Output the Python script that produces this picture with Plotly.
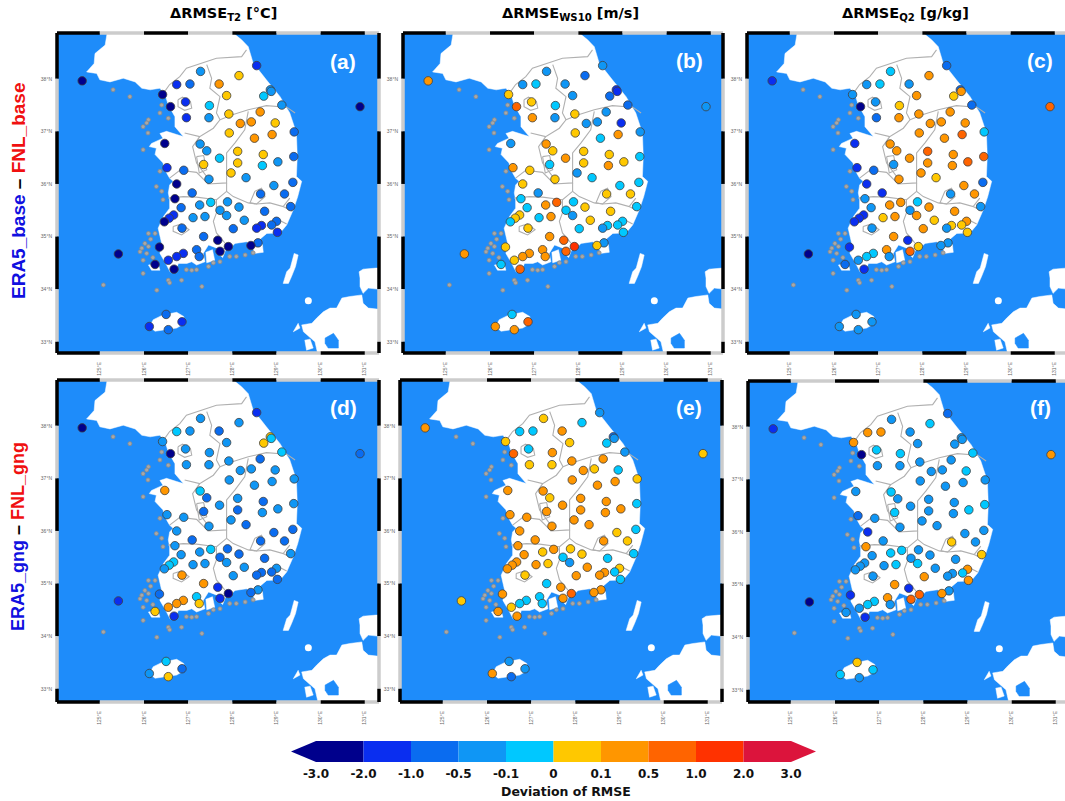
import plotly.graph_objects as go

# ---------- data ----------
STATION_LON = [124.60,130.89,125.42,128.55,127.28,128.15,126.74,127.04,127.70,126.42,
127.87,128.86,128.88,128.71,126.94,126.60,127.48,129.12,126.96,127.47,
127.92,128.63,128.18,128.43,128.97,127.93,129.40,128.50,128.90,126.47,
127.27,127.42,128.12,128.70,129.39,127.71,128.12,127.35,128.68,129.03,
126.52,126.90,127.97,128.31,127.47,126.74,129.37,128.94,128.64,129.18,
127.09,126.70,127.51,127.89,127.26,126.84,128.15,129.32,127.72,128.73,
127.87,126.67,126.57,126.46,127.11,127.38,128.27,129.00,128.89,128.66,
128.55,126.86,128.02,129.02,127.35,127.67,128.58,128.42,127.91,126.35,
127.19,127.72,126.89,126.74,127.25,126.55,126.25,126.68,126.50,126.86,126.12,126.55]
STATION_LAT = [37.96,37.47,34.67,38.25,38.14,38.06,37.89,37.90,37.90,37.70,
37.68,37.79,37.76,37.67,37.56,37.47,37.49,37.50,37.26,37.26,
37.33,37.37,37.15,37.18,37.16,36.97,36.99,36.87,36.94,36.77,
36.76,36.63,36.62,36.56,36.52,36.49,36.40,36.37,36.35,36.42,
36.31,36.26,36.21,36.12,36.09,36.00,36.03,35.97,35.81,35.81,
35.83,35.72,35.65,35.66,35.60,35.55,35.56,35.57,35.50,35.48,
35.40,35.41,35.35,35.28,35.36,35.38,35.31,35.29,35.22,35.21,
35.16,35.16,35.15,35.08,35.00,34.93,34.88,34.83,34.81,34.80,
34.75,34.72,34.68,34.62,34.62,34.55,34.47,34.38,33.52,33.38,33.29,33.23]

# colour class of each station (0 = below -2 ... 9 = above 2)
CLASS_A = [0,0,0,1,3,5,1,2,6,0, 5,3,3,4,1,0,4,3,1,3, 5,6,6,6,5,5,2,6,6,0, 3,3,5,5,2,4,5,5,4,3,
           1,2,5,3,3,0,2,3,2,2, 2,0,4,3,3,2,3,2,3,2, 3,1,1,0,3,3,3,2,2,1, 1,2,2,1,2,0,2,0,0,0,
           2,0,1,1,2,1,0,0,2,1,1,2]
CLASS_B = [6,3,6,3,3,2,3,4,3,5, 3,1,1,2,5,7,4,2,6,3, 5,3,3,3,1,5,3,4,6,3, 6,5,5,5,4,6,5,4,6,5,
           6,5,3,4,5,5,4,4,5,5, 3,4,7,4,6,4,5,4,4,5, 3,5,5,4,4,6,5,4,4,4, 3,5,4,4,6,7,3,5,8,5,
           6,7,6,6,6,5,4,7,4,7,6,6]
CLASS_C = [1,7,0,2,4,6,3,4,3,3, 6,2,6,5,3,0,5,2,2,6, 6,6,6,6,6,6,4,6,7,1, 6,6,7,6,7,6,6,3,6,7,
           1,2,6,5,6,1,2,6,3,6, 1,3,6,4,6,3,6,3,3,6, 6,1,1,1,5,6,5,6,5,5, 3,3,6,5,6,1,3,3,5,1,
           6,7,4,4,3,3,2,1,3,3,3,3]
CLASS_D = [0,2,1,1,3,3,4,3,2,3, 3,5,4,5,3,0,3,4,3,3, 3,2,3,3,3,3,3,3,3,6, 4,2,3,2,3,3,2,2,3,3,
           3,3,3,2,3,3,2,2,2,2, 2,3,4,2,3,3,2,3,2,2, 3,4,4,3,3,3,3,3,2,2, 2,6,3,2,6,1,3,2,0,2,
           4,1,6,6,5,6,5,1,4,2,3,5]
CLASS_E = [6,5,5,3,5,4,4,4,6,5, 5,2,3,4,4,7,6,3,5,5, 6,6,6,5,4,6,5,6,6,6, 6,5,6,6,4,6,6,6,6,6,
           6,6,6,6,6,6,4,5,6,5, 6,6,6,5,5,6,5,4,4,4, 3,6,6,6,6,5,6,5,4,6, 6,5,6,4,4,6,6,6,7,6,
           4,6,4,4,4,5,6,6,3,3,6,2]
CLASS_F = [1,6,0,2,3,4,6,6,3,6, 3,3,3,3,4,0,4,4,3,3, 3,3,3,3,4,3,3,3,3,3, 4,3,3,3,4,3,3,4,3,4,
           2,3,3,3,3,1,3,3,5,3, 3,6,4,3,4,3,3,5,3,3, 4,3,3,3,3,4,3,6,4,3, 3,3,6,6,6,1,3,6,7,1,
           6,7,4,4,3,3,3,1,5,4,4,3]

MAIN_LON = [125.19,125.12,124.89,124.87,124.70,124.93,125.00,125.23,125.53,125.80,
125.95,126.14,126.36,126.48,126.55,126.70,126.70,126.89,126.74,126.51,
126.36,126.43,126.17,126.12,126.28,126.25,126.43,126.47,126.58,126.66,
126.58,126.55,126.58,126.58,126.44,126.32,126.40,126.36,126.51,126.59,
126.70,126.78,126.97,127.08,127.19,127.38,127.34,127.46,127.65,127.95,
128.06,128.32,128.47,128.78,129.08,129.23,129.38,129.48,129.57,129.45,
129.47,129.45,129.30,129.08,128.77,128.47,128.36,128.21,128.02,127.90,125.19]
MAIN_LAT = [39.00,38.64,38.48,38.29,38.13,38.10,37.98,37.94,38.01,37.94,
37.82,37.79,37.82,37.69,37.50,37.28,37.09,36.90,36.94,37.00,
36.96,36.87,36.77,36.71,36.68,36.56,36.40,36.27,36.11,36.05,
35.98,35.83,35.70,35.54,35.38,35.16,34.87,34.68,34.46,34.33,
34.33,34.49,34.49,34.52,34.46,34.52,34.68,34.84,34.78,34.78,
34.87,34.90,34.84,35.06,35.07,35.22,35.51,35.76,36.05,36.14,
36.52,36.97,37.35,37.66,37.98,38.30,38.61,38.74,38.87,39.00,39.00]
JEJU_LON = [126.12,126.21,126.43,126.74,126.90,126.92,126.74,126.51,126.25,126.12]
JEJU_LAT = [33.29,33.42,33.51,33.56,33.48,33.35,33.26,33.23,33.20,33.29]
TSUSHIMA_LON = [129.15,129.23,129.31,129.40,129.49,129.43,129.34,129.27,129.15]
TSUSHIMA_LAT = [34.11,34.33,34.40,34.68,34.65,34.43,34.24,34.11,34.11]
HONSHU_LON = [130.87,130.96,131.25,131.5,131.5,131.08,130.96,130.89,130.89,130.87]
HONSHU_LAT = [34.33,34.38,34.40,34.40,33.98,34.02,33.92,34.05,34.21,34.33]
KYUSHU_LON = [129.57,129.80,129.91,130.06,130.21,130.36,130.48,130.66,130.93,130.96,131.08,131.5,131.5,129.98,129.87,129.72,129.61,129.57]
KYUSHU_LAT = [33.32,33.35,33.45,33.57,33.64,33.64,33.83,33.86,33.89,33.73,33.64,33.60,32.6,32.6,33.00,33.10,33.19,33.32]
BAY_LON = [130.10,130.29,130.40,130.40,130.17,130.10,130.10]
BAY_LAT = [33.07,33.16,33.03,32.88,32.88,32.97,33.07]
GOTO_LON = [129.64,129.76,129.83,129.68,129.64]
GOTO_LAT = [33.03,33.05,32.88,32.84,33.03]
HIRADO_LON = [129.38,129.49,129.53,129.38]
HIRADO_LAT = [33.19,33.35,33.26,33.19]
JINDO_LON = [126.10,126.32,126.36,126.17,126.10]
JINDO_LAT = [34.46,34.49,34.36,34.36,34.46]
GOHEUNG_LON = [127.40,127.55,127.60,127.42,127.40]
GOHEUNG_LAT = [34.70,34.75,34.55,34.50,34.70]
YEOSU_LON = [127.70,127.85,127.78,127.68,127.70]
YEOSU_LAT = [34.80,34.75,34.60,34.68,34.80]
GEOJE_LON = [128.45,128.68,128.70,128.50,128.45]
GEOJE_LAT = [34.85,34.85,34.70,34.68,34.85]

ISLE_LON = [126.10,126.25,126.02,125.91,126.06,125.95,126.10,125.98,126.55,126.85,126.29,127.31,127.08,127.46,127.72,127.76,128.29,
            126.15,125.98,126.20,126.58,126.96,127.19,127.57,127.94,128.09,128.47,125.08,
            126.10,125.98,125.30,125.68,126.40,126.55,126.06,126.09,126.36,126.40,126.28,125.98,126.36,126.43]
ISLE_LAT = [35.06,35.06,34.87,34.71,34.68,34.78,34.81,34.30,34.17,34.17,33.98,34.05,34.36,34.43,34.52,34.68,34.65,
            34.95,34.55,34.60,34.12,34.37,34.37,34.50,34.62,34.62,34.69,34.08,
            37.22,37.09,37.79,37.66,37.50,37.25,37.16,36.97,37.35,35.86,35.95,36.65,36.24,35.70]
IKI_LON = [129.72]
IKI_LAT = [33.78]

BORDERS = {
 "dmz": ([128.32,128.21,127.64,127.19,126.96,126.81,126.58,126.47],[38.55,38.42,38.39,38.27,38.20,38.04,37.89,37.76]),
 "gg_gw": ([127.42,127.53,127.49,127.72,127.64,127.72,127.57,127.26,126.92],[38.27,38.01,37.82,37.66,37.35,37.22,37.06,36.90,36.97]),
 "gw_gb": ([127.72,128.02,128.36,128.77,129.23,129.42],[37.22,37.32,37.41,37.49,37.46,37.35]),
 "seoul": ([126.77,126.87,127.05,127.08,126.92,126.77,126.77],[37.60,37.65,37.57,37.44,37.40,37.47,37.60]),
 "cb": ([127.26,127.10,127.19,127.42,127.45,127.87,127.87,127.87,128.06,128.28,128.36],[36.90,36.71,36.40,36.14,36.00,36.02,36.33,36.59,36.78,37.03,37.38]),
 "daejeon": ([127.19,127.35,127.42,127.25,127.19],[36.52,36.54,36.27,36.21,36.52]),
 "cn_jb": ([126.58,126.81,127.19,127.45],[36.11,36.26,36.22,36.00]),
 "jb_gn": ([127.87,127.87,127.64,127.64,127.57,127.64,127.87],[36.02,35.86,35.70,35.45,35.29,35.07,34.84]),
 "jb_jn": ([126.55,126.89,127.19,127.64],[35.73,35.76,35.75,35.70]),
 "gwangju": ([126.66,126.85,127.02,126.85,126.66,126.66],[35.19,35.24,35.13,35.03,35.10,35.19]),
 "daegu": ([128.51,128.66,128.74,128.55,128.40,128.51],[35.86,35.92,35.76,35.62,35.64,35.86]),
 "gb_gn": ([127.87,128.02,128.36,128.55,128.85,129.15,129.30],[35.86,35.76,35.64,35.62,35.64,35.57,35.73]),
 "busan": ([128.85,129.04,129.23],[35.22,35.32,35.24]),
 "ulsan": ([129.15,129.36],[35.57,35.48]),
}

CLASS_COLORS = ["#00008c","#0a2ef0","#0a6cf0","#0f96f5","#00c8ff",
                "#ffc800","#ff9600","#ff6400","#ff3200","#dc143c"]
CBAR_LABELS = ["-3.0","-2.0","-1.0","-0.5","-0.1","0","0.1","0.5","1.0","2.0","3.0"]
TITLES = ["ΔRMSE<sub>T2</sub> [°C]","ΔRMSE<sub>WS10</sub> [m/s]","ΔRMSE<sub>Q2</sub> [g/kg]"]
PANEL_TAGS = ["(a)","(b)","(c)","(d)","(e)","(f)"]

# ---------- layout ----------
W, H = 1065, 801
SEA = "#1e8cfa"
FONT = "Liberation Sans"
LON0, LAT1 = 124.03, 38.87
PX_LON, PX_LAT = 44.17, 52.6
BOXES = [(57,379,33,353),(403,723,33,353),(747,1069,33,353),
         (57,379,380,702),(400,722,380,702),(748,1070,381,702)]
SERIES = [CLASS_A,CLASS_B,CLASS_C,CLASS_D,CLASS_E,CLASS_F]
TAG_POS = [(343,62),(689,61),(1040,61),(343,407),(689,407),(1040,407)]

def polys(*ps):
    xs, ys = [], []
    for lo, la in ps:
        xs += list(lo) + [None]
        ys += list(la) + [None]
    return xs, ys

land_x, land_y = polys((MAIN_LON,MAIN_LAT),(JEJU_LON,JEJU_LAT),(TSUSHIMA_LON,TSUSHIMA_LAT),
                       (HONSHU_LON,HONSHU_LAT),(KYUSHU_LON,KYUSHU_LAT),(GOTO_LON,GOTO_LAT),
                       (HIRADO_LON,HIRADO_LAT),(JINDO_LON,JINDO_LAT),(GOHEUNG_LON,GOHEUNG_LAT),
                       (YEOSU_LON,YEOSU_LAT),(GEOJE_LON,GEOJE_LAT))
bord_x, bord_y = polys(*BORDERS.values())

stops = []
for i, c in enumerate(CLASS_COLORS):
    stops += [[i/10, c], [(i+1)/10, c]]

fig = go.Figure()
shapes, notes = [], []

def px(x): return x / W
def py(y): return 1 - y / H

def seg(x0, y0, x1, y1, color):
    shapes.append(dict(type="line", xref="paper", yref="paper", x0=px(x0), y0=py(y0), x1=px(x1), y1=py(y1),
                       line=dict(color=color, width=3.5), layer="above"))

for i, (l, r, t, b) in enumerate(BOXES):
    n = "" if i == 0 else str(i + 1)
    ax, ay = f"x{n}", f"y{n}"
    rr = min(r, W)
    lon1 = LON0 + (rr - l) / PX_LON
    lat0 = LAT1 - (b - t) / PX_LAT
    fig.update_layout({
        f"xaxis{n}": dict(domain=[px(l), px(rr)], range=[LON0, lon1], anchor=ay, showgrid=False, zeroline=False,
                          tickvals=list(range(125,132)), ticktext=[f"{v}°E" for v in range(125,132)],
                          tickangle=-90, tickfont=dict(size=5, color="#666666", family=FONT),
                          ticks="outside", ticklen=6, tickcolor="rgba(0,0,0,0)"),
        f"yaxis{n}": dict(domain=[py(b), py(t)], range=[lat0, LAT1], anchor=ax, showgrid=False, zeroline=False,
                          tickvals=list(range(33,39)), ticktext=[f"{v}°N" for v in range(33,39)],
                          tickfont=dict(size=5, color="#666666", family=FONT),
                          ticks="outside", ticklen=3, tickcolor="rgba(0,0,0,0)"),
    })
    fig.add_trace(go.Scatter(x=land_x, y=land_y, xaxis=ax, yaxis=ay, mode="lines", fill="toself",
                             fillcolor="white", line=dict(color="white", width=0.5), hoverinfo="skip"))
    fig.add_trace(go.Scatter(x=BAY_LON, y=BAY_LAT, xaxis=ax, yaxis=ay, mode="lines", fill="toself",
                             fillcolor=SEA, line=dict(color=SEA, width=0.5), hoverinfo="skip"))
    fig.add_trace(go.Scatter(x=ISLE_LON, y=ISLE_LAT, xaxis=ax, yaxis=ay, mode="markers",
                             marker=dict(size=4, color="#a8a8a8", line=dict(color="#8a8a8a", width=0.8)), hoverinfo="skip"))
    fig.add_trace(go.Scatter(x=IKI_LON, y=IKI_LAT, xaxis=ax, yaxis=ay, mode="markers",
                             marker=dict(size=7, color="white"), hoverinfo="skip"))
    fig.add_trace(go.Scatter(x=bord_x, y=bord_y, xaxis=ax, yaxis=ay, mode="lines",
                             line=dict(color="#b0b0b0", width=1.1), hoverinfo="skip"))
    fig.add_trace(go.Scatter(x=STATION_LON, y=STATION_LAT, xaxis=ax, yaxis=ay, mode="markers",
                             marker=dict(size=8.5, color=SERIES[i], colorscale=stops, cmin=0, cmax=10,
                                         showscale=False, line=dict(color="#404040", width=0.8))))
    shapes.append(dict(type="rect", xref="paper", yref="paper", x0=px(l), x1=px(rr), y0=py(b), y1=py(t),
                       fillcolor=SEA, line=dict(width=0), layer="below"))
    # alternating fancy frame, one block per degree
    xedges = [l] + [l + (v - LON0) * PX_LON for v in range(125, 132)] + [r]
    for k in range(len(xedges) - 1):
        c = "#000000" if k % 2 == 0 else "#cccccc"
        seg(xedges[k], t, xedges[k+1], t, c)
        seg(xedges[k], b, xedges[k+1], b, c)
    yedges = [t] + [t + (LAT1 - v) * PX_LAT for v in range(38, 32, -1)] + [b]
    for k in range(len(yedges) - 1):
        c = "#000000" if k % 2 == 0 else "#cccccc"
        seg(l, yedges[k], l, yedges[k+1], c)
        seg(r, yedges[k], r, yedges[k+1], c)
    tx, ty = TAG_POS[i]
    notes.append(dict(text=f"<b>{PANEL_TAGS[i]}</b>", x=px(tx), y=py(ty), xref="paper", yref="paper", showarrow=False,
                      font=dict(size=21, color="white", family=FONT), xanchor="center", yanchor="middle"))

# titles and row labels
for text, cx in zip(TITLES, [223, 570, 905]):
    notes.append(dict(text=f"<b>{text}</b>", x=px(cx), y=py(14), xref="paper", yref="paper", showarrow=False,
                      font=dict(size=14.5, color="black", family="DejaVu Sans"), xanchor="center", yanchor="middle"))
for a, b_, cy, fs in [("ERA5_base","FNL_base",191,19),("ERA5_gng","FNL_gng",537,18)]:
    notes.append(dict(text=f"<b><span style='color:#1010e0'>{a}</span> – <span style='color:#f01010'>{b_}</span></b>",
                      x=px(18), y=py(cy), xref="paper", yref="paper", showarrow=False, textangle=-90,
                      font=dict(size=fs, color="black", family=FONT), xanchor="center", yanchor="middle"))

# colour key
CX0, CX1, CY0, CY1 = 291, 816, 741, 762
EXT = 25 / 47.5
fig.update_layout(
    xaxis7=dict(domain=[px(CX0), px(CX1)], range=[-EXT, 10 + EXT], anchor="y7", showgrid=False, zeroline=False,
                tickvals=list(range(11)), ticktext=CBAR_LABELS, ticks="", ticklabelstandoff=3,
                tickfont=dict(size=12, color="#111111", family="DejaVu Sans", weight="bold")),
    yaxis7=dict(domain=[py(CY1), py(CY0)], range=[-0.5, 0.5], anchor="x7", showgrid=False, zeroline=False,
                showticklabels=False),
)
fig.add_trace(go.Bar(x=[1]*10, base=list(range(10)), y=[0]*10, width=1, orientation="h", xaxis="x7", yaxis="y7",
                     marker=dict(color=CLASS_COLORS, line=dict(width=0)), hoverinfo="skip"))
fig.add_trace(go.Scatter(x=[0,-EXT,0,0], y=[0.5,0,-0.5,0.5], xaxis="x7", yaxis="y7", mode="lines", fill="toself",
                         fillcolor=CLASS_COLORS[0], line=dict(width=0), hoverinfo="skip"))
fig.add_trace(go.Scatter(x=[10,10+EXT,10,10], y=[0.5,0,-0.5,0.5], xaxis="x7", yaxis="y7", mode="lines", fill="toself",
                         fillcolor=CLASS_COLORS[9], line=dict(width=0), hoverinfo="skip"))
notes.append(dict(text="<b>Deviation of RMSE</b>", x=px(566), y=py(791), xref="paper", yref="paper", showarrow=False,
                  font=dict(size=12.5, color="#111111", family="DejaVu Sans"), xanchor="center", yanchor="middle"))

fig.update_layout(width=W, height=H, margin=dict(l=0, r=0, t=0, b=0), paper_bgcolor="white", plot_bgcolor="rgba(0,0,0,0)",
                  showlegend=False, shapes=shapes, annotations=notes, barmode="overlay")
fig.write_html("out.html", config={"displayModeBar": False},
               post_script="document.body.style.margin='0';document.documentElement.style.overflow='hidden';")
